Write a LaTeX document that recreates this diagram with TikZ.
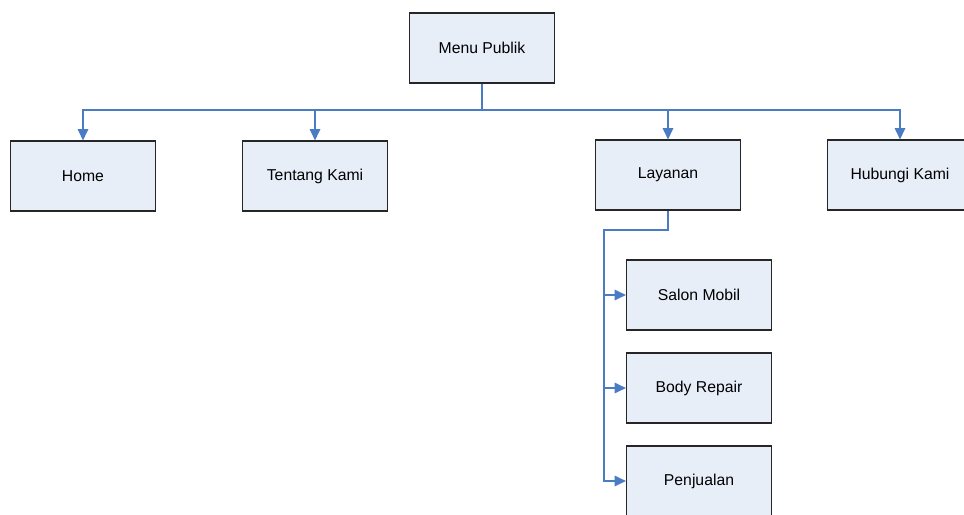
\documentclass[tikz,border=0pt]{standalone}
\usepackage{fontspec}
\setmainfont{Liberation Sans}
\usetikzlibrary{arrows.meta}
\definecolor{boxfill}{RGB}{232,238,248}
\definecolor{linkblue}{RGB}{74,124,196}
\newcommand*{\boxtextstyle}{\fontsize{11.2}{13}\selectfont\color{black}}

\begin{document}
\begin{tikzpicture}[
   x = 0.025cm,
   y = -0.025cm,
   menubox/.style = {
      draw = black!85,
      line width = 0.8pt,
      fill = boxfill,
      minimum width = 3.625cm,
      minimum height = 1.75cm,
      inner sep = 0pt,
      font = \boxtextstyle
   },
   link/.style = {
      draw = linkblue,
      line width = 1pt,
      -{Triangle[length=2.8mm,width=2.6mm]}
   }
]
   \useasboundingbox (0,0) rectangle (964,514);

   \node (menu)    at (482, 48) [menubox]{Menu Publik};

   \node (home)    at ( 83,176) [menubox]{Home};
   \node (tentang) at (315,176) [menubox]{Tentang Kami};
   \node (layanan) at (668,175) [menubox]{Layanan};
   \node (hubungi) at (900,175) [menubox]{Hubungi Kami};

   \node (salon)   at (699,295) [menubox]{Salon Mobil};
   \node (body)    at (699,388) [menubox]{Body Repair};
   \node (jual)    at (699,481) [menubox]{Penjualan};

   % bus under the top menu
   \coordinate (bus) at (482,110);
   \draw[link] (menu.south) -- (bus) -| (home.north);
   \draw[link] (menu.south) -- (bus) -| (tentang.north);
   \draw[link] (menu.south) -- (bus) -| (layanan.north);
   \draw[link] (menu.south) -- (bus) -| (hubungi.north);

   % sub menu of Layanan
   \coordinate (trunk) at (604,230);
   \draw[link] (layanan.south) |- (trunk) |- (salon.west);
   \draw[link] (trunk) |- (body.west);
   \draw[link] (trunk) |- (jual.west);
\end{tikzpicture}
\end{document}
